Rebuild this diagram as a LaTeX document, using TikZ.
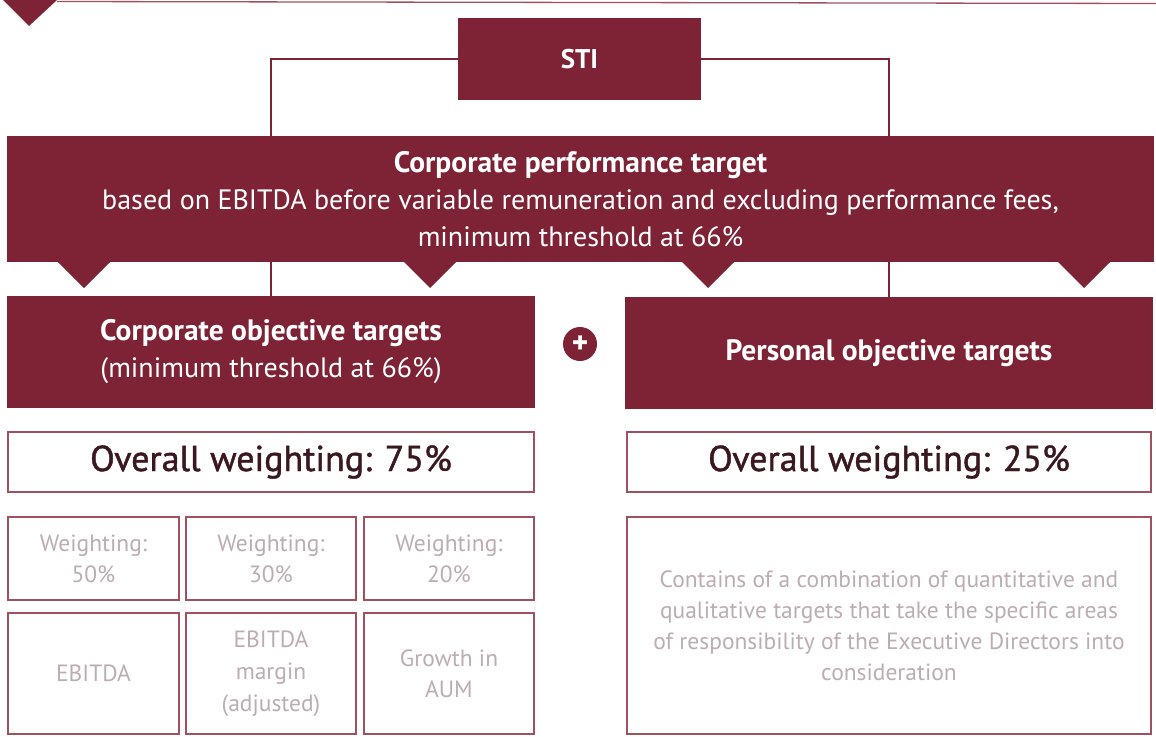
\documentclass[tikz,border=0pt]{standalone}
\usepackage{fontspec}
\setmainfont{PT Sans}
\newfontfamily\mediumfont[FakeBold=1.2]{PT Sans}
\begin{document}
\definecolor{maroon}{HTML}{7E2335}
\definecolor{rimred}{HTML}{A0505F}
\definecolor{paletext}{HTML}{BCADB3}
\definecolor{darktext}{HTML}{3A1820}
\newcommand{\heading}[1]{{\fontsize{29.5}{37}\selectfont\bfseries #1}}
\tikzset{
  fillbox/.style={fill=maroon, draw=none, inner sep=0pt, text=white, align=center},
  rimbox/.style={draw=rimred, line width=1.2pt, fill=white, inner sep=0pt, align=center},
  link/.style={draw=maroon, line width=1.4pt},
  notch/.style={fill=maroon},
  bigfont/.style={font=\fontsize{28}{37}\selectfont},
  weightfont/.style={font=\mediumfont\fontsize{36}{40}\selectfont, text=darktext},
  smallfont/.style={font=\fontsize{23.5}{31}\selectfont, text=paletext},
}
\begin{tikzpicture}[x=1pt, y=-1pt]
\useasboundingbox (0,0) rectangle (1156,736);

% header rule and corner notch
\fill[notch] (3,0) -- (57,0) -- (29,26) -- cycle;
\draw[draw=rimred, line width=1.3pt] (57,1.5) -- (1156,3.5);

% STI box
\node[fillbox, minimum width=243pt, minimum height=82pt, font=\fontsize{27}{30}\selectfont\bfseries] (sti) at (579.5,59) {STI};

% corporate performance target band
\node[fillbox, minimum width=1147pt, minimum height=126pt] (cpt) at (580.5,199) {};
\node[bigfont, text=white, align=center] (cpttext) at (580.5,199)
  {\heading{Corporate performance target}\\
   based on EBITDA before variable remuneration and excluding performance fees,\\
   minimum threshold at 66\%};

% notches under the band
\foreach \xc in {84,430,708,1084}{
  \fill[notch] (\xc-27,261) -- (\xc+27,261) -- (\xc,288) -- cycle;
}

% objective boxes
\node[fillbox, minimum width=528pt, minimum height=112pt, bigfont] (cot) at (271,352)
  {\heading{Corporate objective targets}\\(minimum threshold at 66\%)};
\node[fillbox, minimum width=528pt, minimum height=112pt, bigfont] (pot) at (889,353)
  {\heading{Personal objective targets}};

% plus sign between the objective boxes
\node[circle, fill=maroon, minimum size=34pt, inner sep=0pt, text=white,
      font=\mediumfont\fontsize{30}{30}\selectfont\bfseries] (plus) at (580,344) {+};

% connectors
\coordinate (lx) at (271,0);
\coordinate (rx) at (889,0);
\draw[link] (sti.west) -| (cpt.north -| lx);
\draw[link] (sti.east) -| (cpt.north -| rx);
\draw[link] (cpt.south -| lx) -- (cot.north -| lx);
\draw[link] (cpt.south -| rx) -- (pot.north -| rx);

% overall weighting boxes
\node[rimbox, minimum width=526pt, minimum height=60pt, weightfont] (owl) at (271,462)
  {Overall weighting: 75\%};
\node[rimbox, minimum width=524pt, minimum height=60pt, weightfont] (owr) at (889,462)
  {Overall weighting: 25\%};

% weighting cells
\node[rimbox, minimum width=171pt, minimum height=83pt, smallfont] (w1) at (93.5,558.5) {Weighting:\\50\%};
\node[rimbox, minimum width=170pt, minimum height=83pt, smallfont] (w2) at (271,558.5) {Weighting:\\30\%};
\node[rimbox, minimum width=170pt, minimum height=83pt, smallfont] (w3) at (449,558.5) {Weighting:\\20\%};

% measure cells
\node[rimbox, minimum width=171pt, minimum height=121pt, smallfont] (m1) at (93.5,673.5) {EBITDA};
\node[rimbox, minimum width=170pt, minimum height=121pt, smallfont, font=\fontsize{23.5}{32}\selectfont] (m2) at (271,673.5) {EBITDA\\margin\\(adjusted)};
\node[rimbox, minimum width=170pt, minimum height=121pt, smallfont] (m3) at (449,673.5) {Growth in\\AUM};

% personal targets description
\node[rimbox, minimum width=524pt, minimum height=217pt, smallfont] (pdesc) at (889,625.5)
  {Contains of a combination of quantitative and\\
   qualitative targets that take the specific areas\\
   of responsibility of the Executive Directors into\\
   consideration};
\end{tikzpicture}
\end{document}
